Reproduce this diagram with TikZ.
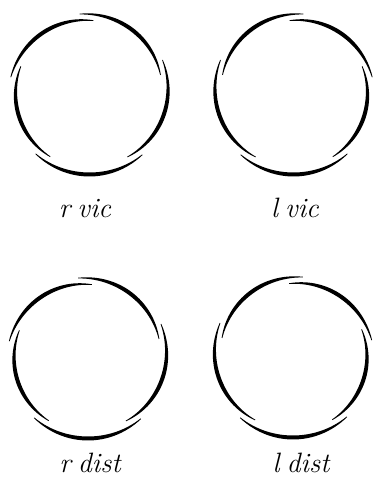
\documentclass[tikz,border=0pt]{standalone}
\usepackage{fontspec}

\newcommand{\cuspstroke}[4]{%
  \fill plot[domain=0:1,samples=30] ({#1+(#2-#1)*\x}:{#3+(#4-#3)*\x+0.35+1.65*sin(180*\x)})
    -- plot[domain=0:1,samples=30] ({#2+(#1-#2)*\x}:{#4+(#3-#4)*\x-0.35-1.65*sin(180*\x)}) -- cycle;}
\newcommand{\cuspring}{%
  \cuspstroke{15}{97}{73.5}{80.5}
  \cuspstroke{87}{168}{73.5}{80.5}
  \cuspstroke{158}{238}{74}{74}
  \cuspstroke{228}{311}{80.5}{80.5}
  \cuspstroke{301}{385}{73.5}{80.5}}

\tikzset{caption/.style={anchor=base,font=\fontsize{28}{30}\selectfont\itshape}}

\begin{document}
\begin{tikzpicture}[x=1pt,y=1pt]
\useasboundingbox (0,0) rectangle (372,481);

\coordinate (RV) at (89.5,387);
\coordinate (LV) at (293.5,387);
\coordinate (RD) at (88,123);
\coordinate (LD) at (293,124);

\begin{scope}[shift={(RV)}] \cuspring \end{scope}
\begin{scope}[shift={(LV)},xscale=-1] \cuspring \end{scope}
\begin{scope}[shift={(RD)}] \cuspring \end{scope}
\begin{scope}[shift={(LD)},xscale=-1] \cuspring \end{scope}

\node[caption] (rvic) at (85,263) {r\hspace{0.25em}vic};
\node[caption] (lvic) at (295,263) {l\hspace{0.25em}vic};
\node[caption] (rdist) at (90,9) {r\hspace{0.25em}dist};
\node[caption] (ldist) at (301,9) {l\hspace{0.25em}dist};
\end{tikzpicture}
\end{document}
